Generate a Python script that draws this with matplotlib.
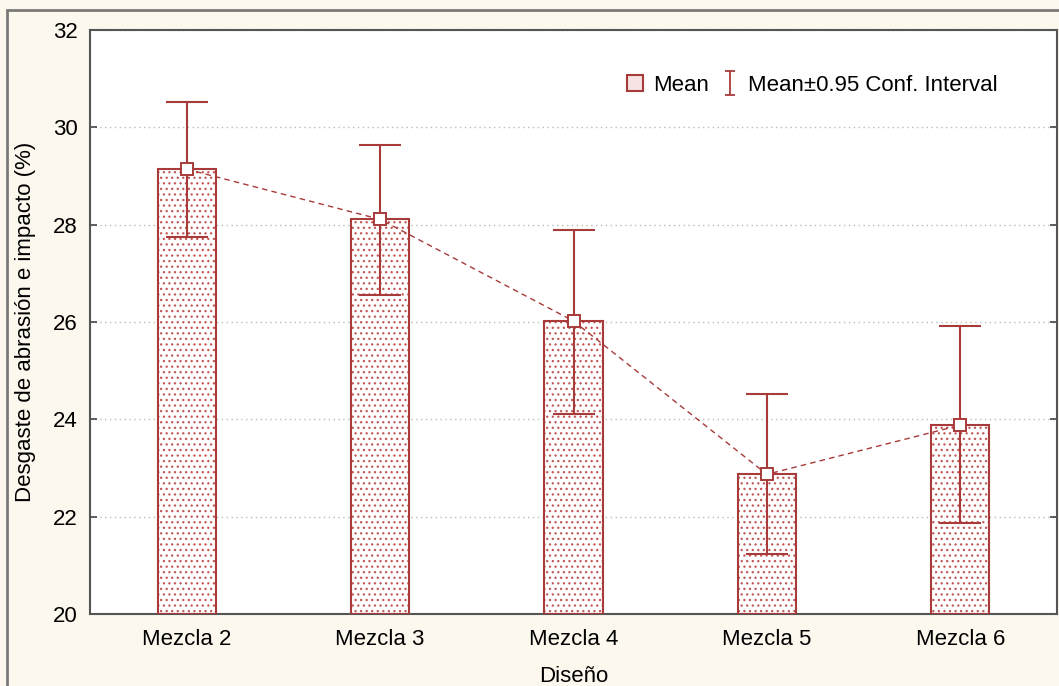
import matplotlib
matplotlib.use("Agg")
import matplotlib.pyplot as plt
from matplotlib.lines import Line2D
from matplotlib.markers import MarkerStyle
from matplotlib.path import Path
from matplotlib.patches import Rectangle
import numpy as np

categories = ["Mezcla 2", "Mezcla 3", "Mezcla 4", "Mezcla 5", "Mezcla 6"]
means = [29.14, 28.11, 26.02, 22.87, 23.88]
ci_upper = [30.53, 29.63, 27.89, 24.52, 25.91]
ci_lower = [27.74, 26.55, 24.11, 21.23, 21.87]
y_ticks = [20, 22, 24, 26, 28, 30, 32]

plt.rcParams['font.family'] = ['Liberation Sans', 'DejaVu Sans']
plt.rcParams['hatch.linewidth'] = 0.9

red = "#A83A3A"
dot_red = "#C25858"
bg = "#FDF8EE"

fig = plt.figure(figsize=(10.59, 6.86), dpi=100, facecolor=bg)
fig.patches.append(Rectangle((7 / 1059, -0.1), 1.2, 1 - 10 / 686 + 0.1,
                             transform=fig.transFigure, facecolor="none",
                             edgecolor="#7a7a7a", linewidth=2, zorder=0))
ax = fig.add_axes([90 / 1059, 1 - 614 / 686, (1057 - 90) / 1059, (614 - 30) / 686])
ax.set_facecolor("white")

x = np.arange(len(categories))
means_a = np.array(means)
err = [means_a - np.array(ci_lower), np.array(ci_upper) - means_a]

# Bars: dotted fill, then outline
ax.bar(x, means_a - 20, bottom=20, width=0.3, facecolor="white",
       edgecolor=dot_red, hatch="...", linewidth=0, zorder=2)
ax.bar(x, means_a - 20, bottom=20, width=0.3, facecolor="none",
       edgecolor=red, linewidth=1.5, zorder=3)

# Confidence intervals
ax.errorbar(x, means_a, yerr=err, fmt="none", ecolor=red, elinewidth=1.5,
            capsize=15, capthick=1.5, zorder=4)

# Means joined by a dashed line
ax.plot(x, means_a, linestyle=(0, (4, 3)), color=red, linewidth=1.0, zorder=4)
ax.plot(x, means_a, linestyle="none", marker="s", markersize=9,
        markerfacecolor="white", markeredgecolor=red, markeredgewidth=1.4, zorder=5)

ax.set_xlim(-0.5, 4.5)
ax.set_ylim(20, 32)
ax.set_yticks(y_ticks)
ax.set_xticks(x)
ax.set_xticklabels(categories)
ax.tick_params(direction="in", length=5, width=1.2, color="#444444",
               labelsize=16, pad=11)
ax.tick_params(axis="y", right=True, pad=9)
ax.yaxis.grid(True, linestyle=(0, (1, 2.5)), color="#bbbbbb", linewidth=1.0)
ax.set_axisbelow(True)
for s in ax.spines.values():
    s.set_color("#555555")
    s.set_linewidth(1.5)

ax.set_xlabel("Diseño", fontsize=16, labelpad=11)
ax.set_ylabel("Desgaste de abrasión e impacto (%)", fontsize=16, labelpad=12)

# Legend
ibar = Path([(-0.4, -1), (0.4, -1), (0, -1), (0, 1), (-0.4, 1), (0.4, 1)],
            [Path.MOVETO, Path.LINETO, Path.MOVETO, Path.LINETO, Path.MOVETO, Path.LINETO])
h_mean = Line2D([], [], linestyle="none", marker="s", markersize=11.5,
                markerfacecolor="#F6E4E4", markeredgecolor=red, markeredgewidth=1.5)
h_ci = Line2D([], [], linestyle="none", marker=MarkerStyle(ibar), markersize=17,
              markeredgecolor=red, markeredgewidth=1.3, fillstyle="none")
ax.legend([h_mean, h_ci], ["Mean", "Mean±0.95 Conf. Interval"], ncol=2,
          frameon=False, fontsize=16, loc="upper right",
          bbox_to_anchor=(0.959, 0.957), handlelength=0.9, handletextpad=0.35,
          columnspacing=0.5)

fig.savefig("out.png", dpi=100, facecolor=bg)
